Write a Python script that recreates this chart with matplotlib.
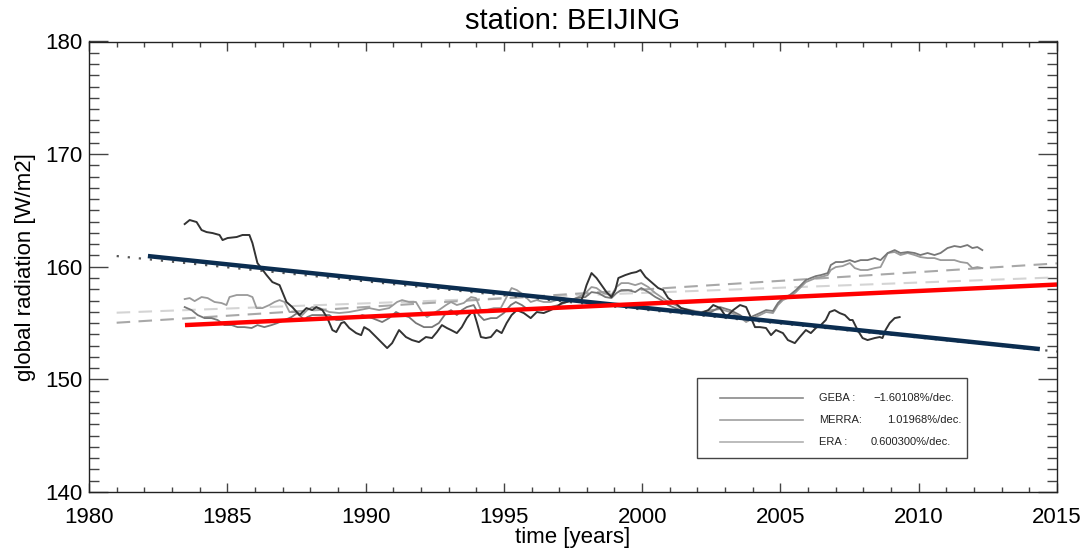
import matplotlib
matplotlib.use("Agg")
import matplotlib.pyplot as plt
from matplotlib.patches import Rectangle
from matplotlib.ticker import MultipleLocator

plt.rcParams['font.family'] = ['Liberation Sans', 'DejaVu Sans']

# --- data ------------------------------------------------------------------
geba_years = [1983.46, 1983.64, 1983.89, 1984.07, 1984.25, 1984.47, 1984.72, 1984.83, 1985.01, 1985.34,
              1985.55, 1985.80, 1985.91, 1986.09, 1986.42, 1986.63, 1986.89, 1987.14, 1987.35, 1987.61,
              1987.86, 1988.07, 1988.22, 1988.44, 1988.62, 1988.80, 1988.94, 1989.12, 1989.23, 1989.41,
              1989.66, 1989.84, 1989.95, 1990.13, 1990.38, 1990.60, 1990.78, 1990.96, 1991.21, 1991.46,
              1991.68, 1991.93, 1992.18, 1992.40, 1992.58, 1992.76, 1992.94, 1993.09, 1993.30, 1993.48,
              1993.66, 1993.81, 1993.91, 1994.02, 1994.17, 1994.35, 1994.53, 1994.74, 1994.92, 1995.10,
              1995.28, 1995.47, 1995.72, 1995.97, 1996.19, 1996.44, 1996.69, 1996.91, 1997.09, 1997.27,
              1997.52, 1997.77, 1997.88, 1997.99, 1998.17, 1998.35, 1998.53, 1998.71, 1998.89, 1999.03,
              1999.14, 1999.39, 1999.61, 1999.79, 1999.94, 2000.12, 2000.33, 2000.58, 2000.76, 2000.94,
              2001.20, 2001.41, 2001.67, 2001.92, 2002.13, 2002.39, 2002.57, 2002.82, 2003.04, 2003.29,
              2003.54, 2003.76, 2003.94, 2004.08, 2004.26, 2004.48, 2004.66, 2004.84, 2005.09, 2005.27,
              2005.52, 2005.70, 2005.92, 2006.10, 2006.28, 2006.46, 2006.64, 2006.78, 2006.96, 2007.14,
              2007.33, 2007.51, 2007.61, 2007.79, 2007.97, 2008.15, 2008.41, 2008.59, 2008.69, 2008.80,
              2008.95, 2009.13, 2009.31]
geba_vals = [163.79, 164.15, 163.97, 163.26, 163.08, 162.99, 162.82, 162.37, 162.55, 162.64,
             162.82, 162.82, 162.10, 160.33, 159.26, 158.64, 158.37, 156.87, 156.42, 155.71,
             156.33, 156.15, 156.42, 156.15, 155.44, 154.38, 154.20, 155.00, 155.09, 154.56,
             154.11, 153.93, 154.64, 154.38, 153.76, 153.22, 152.78, 153.22, 154.38, 153.76,
             153.49, 153.31, 153.76, 153.67, 154.20, 154.82, 154.56, 154.38, 154.11, 154.64,
             155.44, 155.89, 155.98, 155.09, 153.76, 153.67, 153.76, 154.38, 154.11, 155.00,
             155.71, 156.15, 155.89, 155.44, 155.98, 155.89, 156.15, 156.42, 156.78, 156.87,
             157.04, 156.87, 157.49, 158.37, 159.44, 159.00, 158.37, 157.75, 157.31, 157.93,
             159.00, 159.26, 159.44, 159.53, 159.71, 159.09, 158.64, 158.11, 157.93, 157.22,
             156.78, 156.33, 156.15, 155.98, 155.89, 156.15, 156.60, 156.33, 155.53, 156.15,
             156.60, 156.42, 155.44, 154.64, 154.64, 154.56, 153.93, 154.38, 154.11, 153.49,
             153.22, 153.76, 154.38, 154.11, 154.56, 154.82, 155.27, 155.98, 156.15, 155.89,
             155.71, 155.27, 155.27, 154.38, 153.67, 153.49, 153.67, 153.76, 153.67, 154.38,
             155.00, 155.44, 155.53]

merra_years = [1983.46, 1983.71, 1983.93, 1984.18, 1984.43, 1984.65, 1984.90, 1985.16, 1985.37, 1985.62,
               1985.88, 1986.09, 1986.34, 1986.60, 1986.81, 1987.07, 1987.32, 1987.53, 1987.79, 1987.89,
               1988.07, 1988.33, 1988.69, 1988.94, 1989.16, 1989.41, 1989.66, 1989.88, 1990.24, 1990.60,
               1990.85, 1991.10, 1991.32, 1991.57, 1991.82, 1992.11, 1992.40, 1992.65, 1992.91, 1993.09,
               1993.30, 1993.48, 1993.66, 1993.91, 1994.10, 1994.28, 1994.53, 1994.74, 1995.00, 1995.25,
               1995.43, 1995.65, 1995.90, 1996.15, 1996.37, 1996.69, 1996.98, 1997.27, 1997.63, 1997.95,
               1998.17, 1998.42, 1998.67, 1998.89, 1999.07, 1999.25, 1999.50, 1999.75, 1999.97, 2000.22,
               2000.48, 2000.69, 2000.94, 2001.20, 2001.41, 2001.77, 2002.13, 2002.49, 2002.82, 2003.18,
               2003.54, 2003.76, 2004.01, 2004.26, 2004.48, 2004.73, 2004.91, 2005.09, 2005.34, 2005.56,
               2005.74, 2005.92, 2006.10, 2006.28, 2006.46, 2006.71, 2006.82, 2007.00, 2007.25, 2007.51,
               2007.69, 2007.90, 2008.15, 2008.41, 2008.62, 2008.88, 2009.13, 2009.34, 2009.60, 2009.85,
               2010.06, 2010.32, 2010.57, 2010.79, 2011.04, 2011.29, 2011.51, 2011.76, 2011.94, 2012.12,
               2012.30]
merra_vals = [156.42, 156.15, 155.71, 155.44, 155.44, 155.27, 154.82, 154.82, 154.64, 154.64,
              154.56, 154.82, 154.64, 154.82, 155.00, 155.27, 155.53, 155.89, 155.27, 155.53,
              155.71, 155.71, 155.71, 155.27, 155.27, 155.53, 155.44, 155.71, 155.44, 155.09,
              155.44, 155.98, 155.71, 155.53, 155.00, 154.64, 154.64, 155.00, 155.89, 156.15,
              155.71, 156.15, 156.42, 156.60, 155.71, 155.27, 155.44, 155.44, 155.89, 156.60,
              156.87, 156.60, 156.15, 156.33, 156.15, 156.42, 156.60, 156.87, 157.22, 157.31,
              157.75, 157.66, 157.31, 157.22, 157.66, 157.93, 157.93, 157.75, 158.11, 157.75,
              157.31, 157.04, 156.60, 156.33, 156.15, 155.89, 155.89, 155.98, 156.42, 156.15,
              155.71, 155.27, 155.62, 155.89, 156.15, 156.07, 156.78, 157.22, 157.49, 157.93,
              158.37, 158.82, 159.00, 159.17, 159.26, 159.44, 160.15, 160.42, 160.42, 160.59,
              160.42, 160.59, 160.59, 160.77, 160.59, 161.22, 161.48, 161.22, 161.31, 161.22,
              161.04, 161.22, 161.04, 161.22, 161.66, 161.84, 161.75, 161.93, 161.66, 161.75,
              161.48]

era_years = [1983.46, 1983.64, 1983.82, 1984.07, 1984.29, 1984.54, 1984.79, 1984.97, 1985.08, 1985.34,
             1985.52, 1985.73, 1985.91, 1986.06, 1986.27, 1986.52, 1986.71, 1986.89, 1987.07, 1987.25,
             1987.50, 1987.71, 1987.89, 1988.07, 1988.33, 1988.69, 1989.05, 1989.41, 1989.77, 1990.13,
             1990.49, 1990.85, 1991.14, 1991.32, 1991.57, 1991.82, 1992.04, 1992.22, 1992.47, 1992.65,
             1992.91, 1993.09, 1993.30, 1993.55, 1993.81, 1993.99, 1994.17, 1994.38, 1994.64, 1994.89,
             1995.10, 1995.28, 1995.47, 1995.72, 1995.97, 1996.19, 1996.44, 1996.69, 1996.91, 1997.16,
             1997.41, 1997.63, 1997.95, 1998.17, 1998.35, 1998.60, 1998.89, 1999.07, 1999.25, 1999.50,
             1999.75, 1999.97, 2000.22, 2000.48, 2000.69, 2000.94, 2001.20, 2001.41, 2001.77, 2002.13,
             2002.49, 2002.82, 2003.18, 2003.54, 2003.76, 2004.01, 2004.26, 2004.48, 2004.73, 2004.91,
             2005.09, 2005.34, 2005.56, 2005.74, 2005.92, 2006.10, 2006.28, 2006.46, 2006.71, 2006.82,
             2007.00, 2007.25, 2007.51, 2007.69, 2007.90, 2008.15, 2008.41, 2008.62, 2008.88, 2009.13,
             2009.34, 2009.60, 2009.85, 2010.06, 2010.32, 2010.57, 2010.79, 2011.04, 2011.29, 2011.51,
             2011.76, 2011.94, 2012.12, 2012.30]
era_vals = [157.13, 157.22, 156.95, 157.31, 157.22, 156.87, 156.78, 156.60, 157.31, 157.49,
            157.49, 157.49, 157.31, 156.33, 156.33, 156.60, 156.87, 157.04, 156.87, 155.98,
            155.98, 155.71, 156.15, 156.42, 156.33, 155.98, 155.89, 155.98, 156.15, 156.33,
            156.15, 156.33, 156.87, 157.04, 156.87, 156.87, 155.98, 155.53, 155.89, 156.15,
            156.60, 156.87, 156.60, 156.78, 157.31, 157.22, 156.15, 156.15, 156.33, 156.33,
            157.31, 158.11, 157.93, 157.49, 156.87, 157.04, 156.87, 156.87, 157.04, 157.22,
            157.04, 157.22, 157.66, 158.20, 158.11, 157.66, 157.49, 158.20, 158.55, 158.55,
            158.37, 158.55, 158.20, 157.66, 157.31, 156.87, 156.60, 156.33, 156.15, 155.98,
            156.15, 156.24, 155.98, 155.53, 155.09, 155.44, 155.71, 155.98, 155.89, 156.60,
            157.04, 157.31, 157.75, 158.20, 158.64, 158.82, 159.00, 159.09, 159.26, 159.71,
            159.97, 160.06, 160.33, 159.88, 159.71, 159.71, 159.88, 159.97, 161.22, 161.31,
            161.04, 161.22, 161.04, 160.86, 160.77, 160.77, 160.59, 160.59, 160.59, 160.42,
            160.33, 159.88, 159.97, 159.88]

# trend lines (end points)
geba_trend_years = [1982.13, 2014.38]
geba_trend_vals = [160.95, 152.69]
geba_fit_years = [1981.0, 2015.0]
geba_fit_vals = [160.95, 152.47]
red_trend_years = [1983.47, 2015.0]
red_trend_vals = [154.82, 158.42]
merra_trend_years = [1981.0, 2015.0]
merra_trend_vals = [155.03, 160.30]
era_trend_years = [1981.0, 2015.0]
era_trend_vals = [155.92, 159.06]

legend_names = ['GEBA :', 'MERRA:', 'ERA :']
legend_trends = ['\u22121.60108%/dec.', '1.01968%/dec.', '0.600300%/dec.']

# --- plot -------------------------------------------------------------------
fig = plt.figure(figsize=(10.85, 5.49), dpi=100)
ax = fig.add_axes([89 / 1085, 1 - 492 / 549, 968 / 1085, 450.5 / 549])

ax.plot(era_trend_years, era_trend_vals, color='#d4d4d4', lw=1.5, dashes=(6.5, 4))
ax.plot(merra_trend_years, merra_trend_vals, color='#a8a8a8', lw=1.5, dashes=(6.5, 4))
ax.plot(geba_fit_years, geba_fit_vals, color='#555555', lw=1.6, linestyle=(0, (1, 4)))

ax.plot(era_years, era_vals, color='#9a9a9a', lw=1.3)
ax.plot(merra_years, merra_vals, color='#777777', lw=1.3)
ax.plot(geba_years, geba_vals, color='#333333', lw=1.4)

ax.plot(geba_trend_years, geba_trend_vals, color='#0b2d50', lw=3.2, solid_capstyle='butt')
ax.plot(red_trend_years, red_trend_vals, color='#ff0000', lw=3.2, solid_capstyle='butt')

ax.set_xlim(1980, 2015)
ax.set_ylim(140, 180)
ax.xaxis.set_major_locator(MultipleLocator(5))
ax.xaxis.set_minor_locator(MultipleLocator(1))
ax.yaxis.set_major_locator(MultipleLocator(10))
ax.yaxis.set_minor_locator(MultipleLocator(1))
ax.tick_params(axis='both', which='both', direction='in', top=True, right=True,
               color='#444444', width=1.0, labelsize=16)
ax.tick_params(axis='x', which='major', length=6.5, pad=11)
ax.tick_params(axis='x', which='minor', length=3.4)
ax.tick_params(axis='y', which='major', length=13.7, pad=5)
ax.tick_params(axis='y', which='minor', length=7.2)
for sp in ax.spines.values():
    sp.set_linewidth(1.0)
    sp.set_color('#222222')

ax.set_title('station: BEIJING', fontsize=21, pad=9)
ax.set_xlabel('time [years]', fontsize=16, labelpad=-1)
ax.set_ylabel('global radiation [W/m2]', fontsize=16, labelpad=6)

# legend box drawn by hand, IDL style
ax.add_patch(Rectangle((0.628, 0.0755), 0.279, 0.1775, transform=ax.transAxes,
                       fill=False, edgecolor='#444444', lw=1.0))
row_y = [0.209, 0.160, 0.111]
name_x = 0.754
trend_x = [0.810, 0.824, 0.807]
line_cols = ['#8a8a8a', '#a0a0a0', '#b0b0b0']
for i in range(3):
    ax.plot([0.652, 0.738], [row_y[i], row_y[i]], transform=ax.transAxes,
            color=line_cols[i], lw=1.2)
    ax.text(name_x, row_y[i], legend_names[i], transform=ax.transAxes,
            fontsize=8, va='center', ha='left', color='#222222')
    ax.text(trend_x[i], row_y[i], legend_trends[i], transform=ax.transAxes,
            fontsize=8, va='center', ha='left', color='#222222')

fig.savefig('out.png', dpi=100)
